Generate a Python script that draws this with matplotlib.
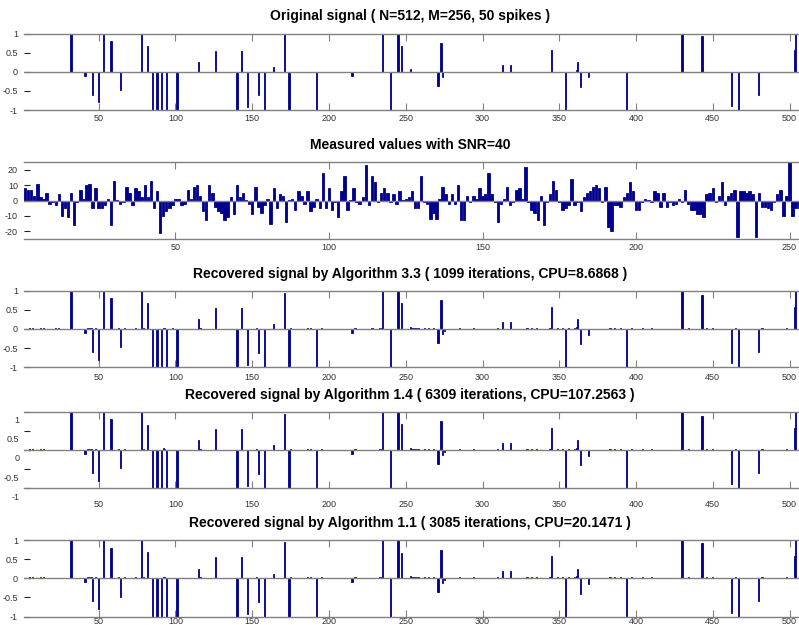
import numpy as np
import matplotlib.pyplot as plt

# spike positions / amplitudes of the original sparse signal (N=512)
spike_idx = [32, 41, 46, 50, 53, 58, 64, 78, 82, 85, 88, 91, 94, 101, 115, 126,
             140, 143, 147, 154, 158, 164, 171, 174, 192, 215, 235, 240, 245, 247,
             253, 271, 273, 274, 313, 318, 345, 354, 361, 362, 364, 369, 394, 430,
             443, 462, 467, 480, 503, 504]
spike_val = [1, -0.1, -0.6, -0.8, 1, 0.8, -0.48, 1, 0.68, -1, -1, -1, -1, -1, 0.25, 0.55,
             -1, 0.55, -0.93, -0.62, -1, 0.12, 1, -1, -1, -0.1, 1, -1, 1, 0.67,
             0.06, -0.37, 0.75, -0.13, 0.18, 0.18, 0.58, -1, 0.05, 0.25, -0.4, -0.15, -1, 1,
             0.93, -0.9, -1, -0.6, 0.58, 1]

# measured values y = A x + noise (M=256)
measured = [8, 7, 7, 3, 11, 2, 1, 5, -2, -1, -3, 4, -10, -5, -11, 5, -16, -1, 7, 1,
            10, 11, -5, 8, -5, -5, -3, 1, -16, 13, 0.5, -2, -1, 9, 5, -3, 8, 6, 2, 10,
            2, 13, -5, 6, -21, -10, -7, -5, -3, 1, 1, -3, -2, 7, 1, 9, 10, 3, -7, -13,
            10, 5, -4, -7, -8, -13, -11, 2, -9, 10, 2, 5, 0.5, -2, -9, 9, -4, -8, -3, 1,
            -15, 8, -5, 4, 3, -14, 0.5, 1, -6, 6, 3, -2, 6, -7, -4, 1, -5, 18, -5, 8,
            -6, -1, -11, 6, 16, -6, 0.5, 8, -1, -2, 2, 23, -3, 16, 12, -1, 5, 8, 5, -1,
            4, -2, 6, 0.5, 1, 2, 6, -5, -5, 16, -1, -2, -12, -8, -12, 1, 9, 4, -2, 4,
            -2, 10, -13, -13, 3, -1, 3, 1, 8, 3, 4, 18, 4, -1, -14, -2, 1, 9, -3, -1,
            7, 8, 1, 22, -1, -6, -8, -13, 3, -16, -1, 4, 13, 7, -1, -6, -5, -3, 14, -3,
            -1, -7, 2, 5, 6, 9, 10, 8, -1, 9, -17, -20, -3, -3, -4, 2, 5, 12, 6, -6,
            -6, -1, 1, 0.5, -1, 6, 5, -4, 5, -4, -1, -3, -2, 1, -1, 7, -2, -6, -6, -9,
            -9, -11, 4, 5, 8, -1, 3, 12, -3, 3, 5, 7, -24, 6, 6, 5, 6, 4, -24, 5,
            -4, -4, -5, -6, -1, 4, 7, -10, 3, 25, -10, -5, -5, -3, 2, -4]

# recovered amplitudes that differ from the original spikes
rec_fix = {
    'alg33': {171: 0.94, 443: 0.9},
    'alg14': {171: 0.95, 443: 0.9, 82: 0.66},
    'alg11': {171: 0.95, 443: 0.91},
}
# small spurious coefficients left by each solver
small_idx = [5, 7, 12, 14, 22, 24, 43, 45, 48, 63, 67, 74, 79, 92, 93, 98, 116, 153, 175,
             186, 188, 195, 217, 228, 233, 234, 254, 256, 258, 262, 265, 268, 275, 285,
             294, 310, 329, 332, 335, 344, 349, 352, 356, 360, 383, 386, 390, 397, 404,
             410, 434, 446, 450, 465, 482, 498]
small_33 = [0.02, 0.02, 0.02, 0.02, 0.02, 0.02, 0.03, 0.02, 0.02, 0.02, 0.02, 0.02, 0.02, 0.03, 0.02, 0.02, 0.02, 0.03, 0.02,
            0.02, 0.03, 0.02, 0.02, 0.02, 0.03, 0.03, 0.03, 0.03, 0.02, 0.02, 0.02, 0.02, -0.05, 0.02,
            0.02, 0.02, 0.02, 0.03, 0.02, 0.02, 0.02, 0.02, 0.02, 0.03, 0.02, 0.02, 0.02, 0.02, 0.02,
            0.02, 0.02, 0.03, 0.03, 0.02, 0.02, 0.03]
small_14 = [0.02, 0.02, 0.02, 0.02, 0.01, 0.01, 0.02, 0.02, 0.02, 0.02, 0.02, 0.01, 0.03, 0.04, 0.02, 0.01, 0.02, 0.03, 0.02,
            0.02, 0.02, 0.02, 0.02, 0.01, 0.03, 0.03, 0.03, 0.02, 0.02, 0.02, 0.02, 0.02, -0.06, 0.02,
            0.02, 0.02, 0.02, 0.03, 0.02, 0.02, 0.02, 0.02, 0.02, 0.03, 0.02, 0.02, 0.02, 0.02, 0.02,
            0.02, 0.02, 0.03, 0.03, 0.02, 0.02, 0.03]
small_11 = [0.02, 0.02, 0.02, 0.02, 0.01, 0.01, 0.02, 0.02, 0.02, 0.02, 0.02, 0.02, 0.02, 0.03, 0.02, 0.01, 0.02, 0.03, 0.02,
            0.02, 0.02, 0.02, 0.02, 0.01, 0.03, 0.03, 0.03, 0.02, 0.02, 0.02, 0.02, 0.02, -0.05, 0.02,
            0.02, 0.02, 0.02, 0.02, 0.02, 0.02, 0.02, 0.02, 0.02, 0.03, 0.02, 0.02, 0.02, 0.02, 0.02,
            0.02, 0.02, 0.03, 0.02, 0.02, 0.02, 0.03]

titles = ['Original signal ( N=512, M=256, 50 spikes )',
          'Measured values with SNR=40',
          'Recovered signal by Algorithm 3.3 ( 1099 iterations, CPU=8.6868 )',
          'Recovered signal by Algorithm 1.4 ( 6309 iterations, CPU=107.2563 )',
          'Recovered signal by Algorithm 1.1 ( 3085 iterations, CPU=20.1471 )']

N = 512
M = 256
x_orig = np.zeros(N)
x_orig[np.array(spike_idx) - 1] = spike_val


def recovered(fix, small):
    x = x_orig.copy()
    for k, v in fix.items():
        x[k - 1] = v
    for k, v in zip(small_idx, small):
        if x[k - 1] == 0:
            x[k - 1] = v
    return x


signals = [x_orig, np.array(measured, dtype=float),
           recovered(rec_fix['alg33'], small_33),
           recovered(rec_fix['alg14'], small_14),
           recovered(rec_fix['alg11'], small_11)]

plt.rcParams['font.family'] = ['Liberation Sans', 'DejaVu Sans']
plt.rcParams['axes.unicode_minus'] = False
W, H = 799, 625
fig = plt.figure(figsize=(W / 100, H / 100), dpi=100)

bar_col = '#00008f'
grey = '#808080'
tops = [33.5, 162.3, 290.7, 411.7, 540]
ax_h = 76.5
left, right = 23.5, 809.5
xpads = [3, 3, 4, 3, 0]

for i, sig in enumerate(signals):
    ax = fig.add_axes([left / W, 1 - (tops[i] + ax_h) / H, (right - left) / W, ax_h / H])
    n = len(sig)
    xs = np.arange(1, n + 1)
    nz = sig != 0
    ax.bar(xs[nz], sig[nz], width=0.8, color=bar_col, edgecolor=bar_col,
           linewidth=0.6, zorder=2)
    ax.axhline(0, color=grey, lw=1.0, zorder=3)
    if i == 1:
        ax.set_xlim(0.5, 256.5)
        ax.set_ylim(-25, 25)
        ax.set_xticks([50, 100, 150, 200, 250])
        ax.set_yticks([-20, -10, 0, 10, 20])
    else:
        ax.set_xlim(1, 513)
        ax.set_ylim(-1, 1)
        ax.set_xticks(range(50, 501, 50))
        ax.set_yticks([-1, -0.5, 0, 0.5, 1])
        ax.set_yticklabels(['-1', '-0.5', '0', '0.5', '1'])
    ax.tick_params(axis='x', direction='in', length=5, width=0.8, color=grey,
                   top=True, labelsize=6.5, labelcolor='#333333', pad=xpads[i])
    ax.tick_params(axis='y', direction='in', length=4, width=0.8, color='#222222',
                   labelsize=6.5, labelcolor='#333333', pad=4)
    for s in ['top', 'bottom']:
        ax.spines[s].set_color(grey)
        ax.spines[s].set_linewidth(1.0)
    ax.spines['left'].set_visible(False)
    ax.spines['right'].set_visible(False)
    ax.set_title(titles[i], fontsize=10, fontweight='bold', pad=9.5, x=(410 - left) / (right - left))

    if i == 3:
        # labels of this panel sit lower than their ticks
        ax.set_yticklabels([])
        ax.set_xticklabels([])
        for v, lab in zip([-1, -0.5, 0, 0.5, 1], ['-1', '-0.5', '0', '0.5', '1']):
            ax.annotate(lab, xy=(0, v), xycoords=('axes fraction', 'data'),
                        xytext=(-4, -9), textcoords='offset pixels',
                        ha='right', va='center', fontsize=6.5, color='#333333',
                        annotation_clip=False)
        for v in range(50, 501, 50):
            ax.annotate(str(v), xy=(v, 0), xycoords=('data', 'axes fraction'),
                        xytext=(0, -16), textcoords='offset pixels',
                        ha='center', va='center', fontsize=6.5, color='#333333',
                        annotation_clip=False)

fig.savefig('out.png', dpi=100)
